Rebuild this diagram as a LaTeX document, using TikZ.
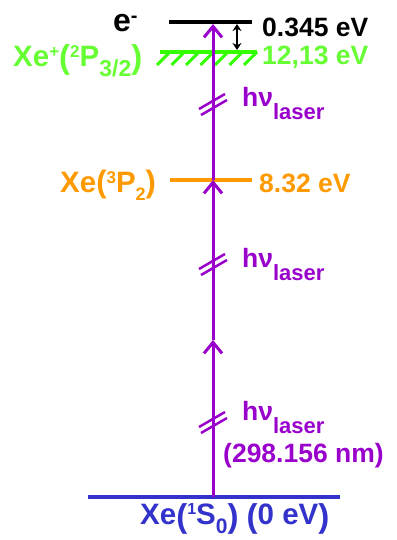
\documentclass[tikz,border=0pt]{standalone}
\usepackage{fontspec}
\setmainfont{Liberation Sans}
\usetikzlibrary{arrows.meta}

\definecolor{laserc}{RGB}{153,0,204}
\definecolor{ionc}{RGB}{51,255,0}
\definecolor{iontxt}{RGB}{102,255,51}
\definecolor{metac}{RGB}{255,153,0}
\definecolor{groundc}{RGB}{51,51,204}

% raised / lowered small text: raise, size, text
\newcommand{\hi}[3]{\raisebox{#1pt}{\fontsize{#2}{#2}\selectfont #3}}
\newcommand{\lo}[3]{\raisebox{-#1pt}{\fontsize{#2}{#2}\selectfont #3}}
% big parentheses: size, lowering
\newcommand{\lp}[2]{\raisebox{-#2pt}{\fontsize{#1}{#1}\selectfont(}}
\newcommand{\rp}[2]{\raisebox{-#2pt}{\fontsize{#1}{#1}\selectfont)}}

\begin{document}
\begin{tikzpicture}[x=1pt, y=-1pt, every node/.style={font=\fontsize{26.5}{30}\selectfont\bfseries, inner sep=0pt},
  state/.style={anchor=base west, font=\fontsize{29.5}{30}\selectfont\bfseries},
  lvl/.style={line width=3.5pt}, >={Straight Barb[length=11pt,width=18pt]}]
\useasboundingbox (0,0) rectangle (396,540);
% energy levels
\coordinate (el) at (169,22); \coordinate (er) at (252,22);
\coordinate (il) at (160,52); \coordinate (ir) at (257,52);
\coordinate (ml) at (170,180); \coordinate (mr) at (252,180);
\coordinate (gl) at (88,497); \coordinate (gr) at (340,497);
\draw[lvl] (el) -- (er);
\draw[lvl, ionc] (il) -- (ir);
\foreach \k in {0,...,6}
  \draw[ionc, line width=3pt] (170+14.5*\k,52) -- ++(-13,13);
\draw[lvl, metac] (ml) -- (mr);
\draw[lvl, groundc] (gl) -- (gr);
% labels
\node[anchor=base west, font=\fontsize{32}{34}\selectfont\bfseries] (eminus) at (113,32) {e\hi{9}{20}{-}};
\node[anchor=base west] (ionVal0) at (262,37) {0.345 eV};
\node[state, iontxt] (ionLbl) at (13,67) {Xe\hi{9}{17}{+}\lp{33}{2}\hi{9}{17}{2}P\lo{10}{23}{3/2}\rp{33}{2}};
\node[anchor=base west, iontxt] (ionVal) at (262,65) {12,13 eV};
\node[state, metac] (metaLbl) at (60,192) {Xe\lp{31}{1}\hi{9}{17}{3}P\lo{8}{18}{2}\rp{31}{1}};
\node[anchor=base west, metac] (metaVal) at (259,192) {8.32 eV};
\node[state, groundc] (groundLbl) at (140,524) {Xe\lp{33}{3}\hi{10}{16}{1}S\lo{9}{21}{0}\rp{33}{3} \lp{33}{3}0 eV\rp{33}{3}};
\foreach \nm/\y in {hv1/107, hv2/267, hv3/420}
  \node[anchor=base west, laserc] (\nm) at (242,\y) {hν\lo{13}{22}{laser}};
\node[anchor=base west, laserc] (wl) at (223,462) {(298.156 nm)};
% gap between e- and ion limit
\draw[{Stealth[length=7pt,width=9pt]}-{Stealth[length=7pt,width=9pt]}, line width=1.5pt] (237,24) -- (237,50);
% laser photons
\coordinate (p0) at (213,497); \coordinate (p1) at (213,340);
\coordinate (p2) at (213,180); \coordinate (p3) at (213,24);
\foreach \a/\b in {p0/p1, p1/p2, p2/p3}
  \draw[->, laserc, line width=3pt] (\a) -- (\b);
\foreach \y in {103,263,421}{
  \draw[laserc, line width=2.5pt] (199,\y+6) -- (225,\y-9);
  \draw[laserc, line width=2.5pt] (201,\y+12) -- (227,\y-3);
}
\end{tikzpicture}
\end{document}
